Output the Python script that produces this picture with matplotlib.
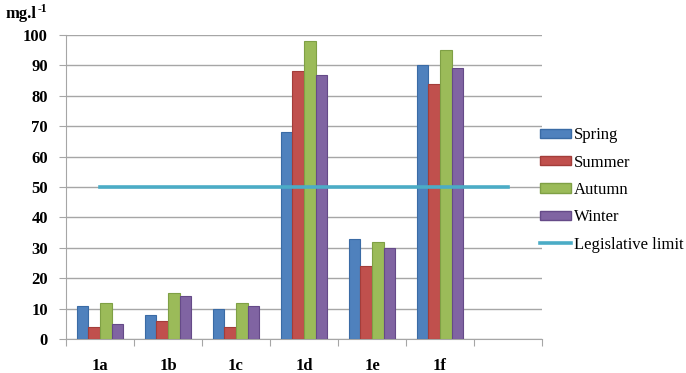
import numpy as np
import matplotlib
matplotlib.use("Agg")
import matplotlib.pyplot as plt
from matplotlib.lines import Line2D
from matplotlib.patches import Patch

sites = ["1a", "1b", "1c", "1d", "1e", "1f", ""]
spring = [11, 8, 10, 68, 33, 90]
summer = [4, 6, 4, 88, 24, 84]
autumn = [12, 15, 12, 98, 32, 95]
winter = [5, 14, 11, 87, 30, 89]
limit = 50

seasons = ["Spring", "Summer", "Autumn", "Winter"]
colors = ["#4F81BD", "#C0504D", "#9BBB59", "#8064A2"]
edges = ["#3A6BA5", "#A33D3A", "#7FA045", "#654A88"]
limit_color = "#4BACC6"

plt.rcParams["font.family"] = ["Liberation Serif", "DejaVu Serif"]

fig = plt.figure(figsize=(6.86, 3.73), dpi=100)
ax = fig.add_axes([66 / 686, 1 - 339 / 373, 476 / 686, 304 / 373])

x = np.arange(len(spring))
w = 0.172
for i, vals in enumerate([spring, summer, autumn, winter]):
    ax.bar(x + (i - 1.5) * w, vals, width=w, color=colors[i],
           edgecolor=edges[i], linewidth=0.8, zorder=3)

ax.plot([0, len(sites) - 1], [limit, limit], color=limit_color, lw=2.6, zorder=4)

ax.set_xlim(-0.5, len(sites) - 0.5)
ax.set_ylim(0, 100)
ax.set_yticks(range(0, 101, 10))
ax.yaxis.grid(True, color="#A6A6A6", lw=1)
ax.set_axisbelow(True)

ax.set_xticks(np.arange(-0.5, len(sites), 1))
ax.set_xticklabels([])
ax.set_xticks(np.arange(len(sites)), minor=True)
ax.set_xticklabels(sites, minor=True, fontweight="bold", fontsize=12)
ax.tick_params(axis="x", which="minor", length=0, pad=14)
ax.tick_params(axis="x", which="major", length=5, color="#A6A6A6")
ax.tick_params(axis="y", length=5, color="#A6A6A6", pad=8, labelsize=12)
for lbl in ax.get_yticklabels():
    lbl.set_fontweight("bold")

for s in ["top", "right"]:
    ax.spines[s].set_visible(False)
for s in ["left", "bottom"]:
    ax.spines[s].set_color("#A6A6A6")

# unit label with a plain hyphen superscript
fig.text(6 / 686, 1 - 14 / 373, "mg.l", fontsize=12, fontweight="bold",
         va="center", ha="left")
fig.text(38 / 686, 1 - 9 / 373, "-1", fontsize=8.5, fontweight="bold",
         va="center", ha="left")

handles = [Patch(facecolor=colors[i], edgecolor=edges[i], label=seasons[i]) for i in range(4)]
handles.append(Line2D([0], [0], color=limit_color, lw=2.6, label="Legislative limit"))
fig.legend(handles=handles, loc="center left", bbox_to_anchor=(540 / 686, 1 - 190 / 373),
           frameon=False, fontsize=12, borderpad=0, borderaxespad=0,
           handlelength=1.85, handleheight=0.5, handletextpad=0.2, labelspacing=0.68)

fig.savefig("out.png", dpi=100)
